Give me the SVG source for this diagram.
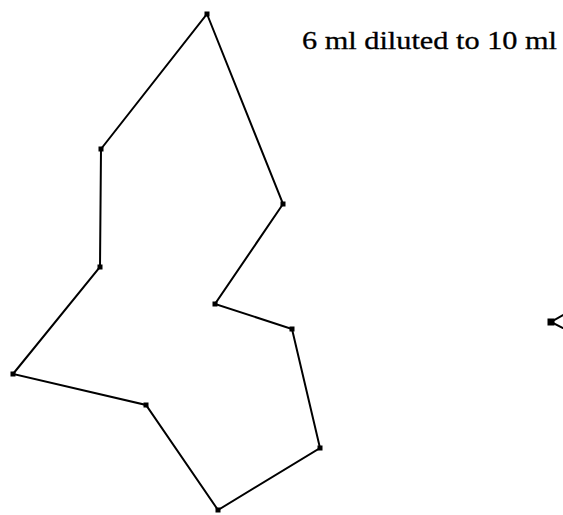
<svg xmlns="http://www.w3.org/2000/svg" width="563" height="515" viewBox="0 0 563 515">
<style>
.e{stroke:#000;stroke-width:2;fill:none;stroke-linecap:round}
.n{fill:#000}
.t{font-family:"Liberation Serif","Times New Roman",serif;font-size:25px;fill:#000;stroke:#000;stroke-width:0.3}
</style>
<rect width="563" height="515" fill="#fff"/>
<g id="connectors">
<polygon class="e" points="207,14 283,204 215,304 292,329 320,448 218,510 146,405 13,374 100,267 101,149"/>
<polyline class="e" points="563,315 551,322 563,328"/>
</g>
<g id="p1"><rect class="n" x="204.5" y="11.5" width="5" height="5"/></g>
<g id="p2"><rect class="n" x="280.5" y="201.5" width="5" height="5"/></g>
<g id="p3"><rect class="n" x="212.5" y="301.5" width="5" height="5"/></g>
<g id="p4"><rect class="n" x="289.5" y="326.5" width="5" height="5"/></g>
<g id="p5"><rect class="n" x="317.5" y="445.5" width="5" height="5"/></g>
<g id="p6"><rect class="n" x="215.5" y="507.5" width="5" height="5"/></g>
<g id="p7"><rect class="n" x="143.5" y="402.5" width="5" height="5"/></g>
<g id="p8"><rect class="n" x="10.5" y="371.5" width="5" height="5"/></g>
<g id="p9"><rect class="n" x="97.5" y="264.5" width="5" height="5"/></g>
<g id="p10"><rect class="n" x="98.5" y="146.5" width="5" height="5"/></g>
<g id="p11"><rect class="n" x="547.5" y="318.5" width="7" height="7"/></g>
<g id="label"><text class="t" x="302" y="49" textLength="255" lengthAdjust="spacingAndGlyphs">6 ml diluted to 10 ml</text></g>
</svg>
